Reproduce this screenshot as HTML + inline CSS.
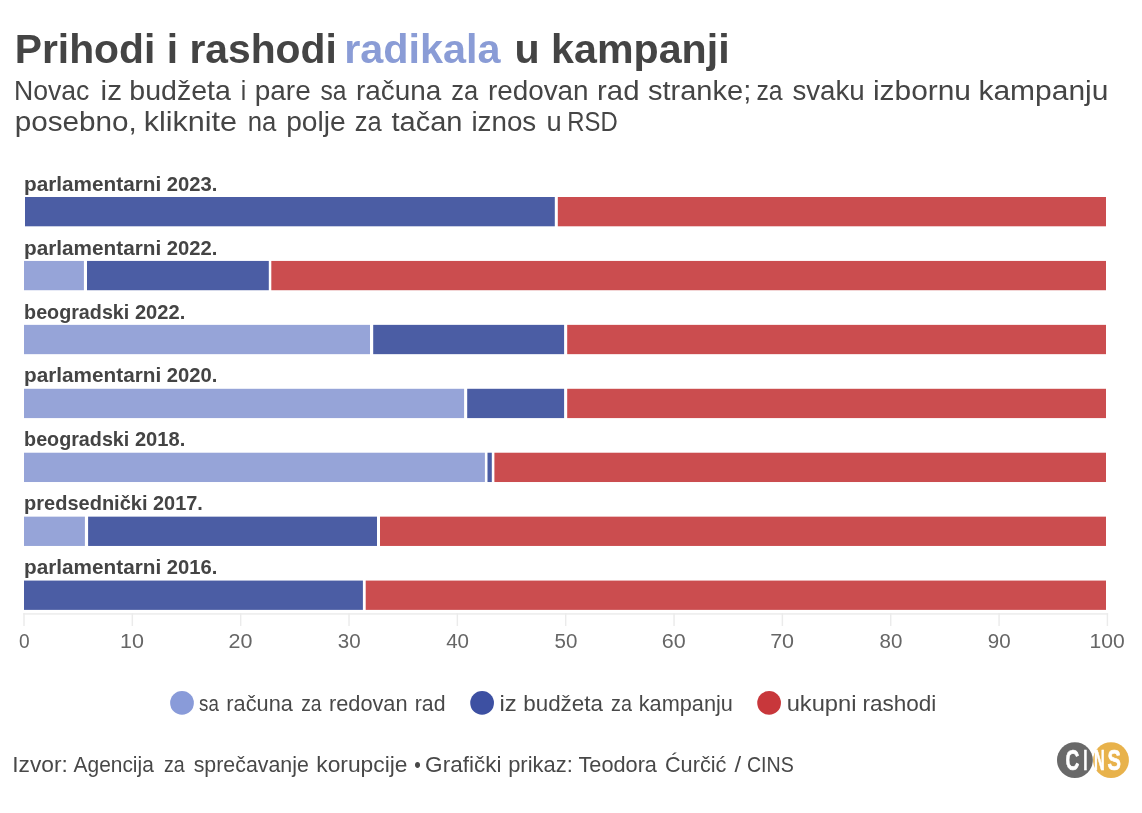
<!DOCTYPE html>
<html lang="sr"><head><meta charset="utf-8"><title>Prihodi i rashodi radikala u kampanji</title>
<style>
html,body{margin:0;padding:0;background:#fff;}
body{width:1142px;height:813px;overflow:hidden;}
svg{display:block;font-family:"Liberation Sans",sans-serif;}
text{white-space:pre;}
</style></head><body>
<svg width="1142" height="813" viewBox="0 0 1142 813">
<rect width="1142" height="813" fill="#ffffff"/>
<g id="bars">
<rect x="25.0" y="197.00" width="529.8" height="29.3" fill="#4b5da4"/>
<rect x="557.8" y="197.00" width="548.2" height="29.3" fill="#cb4d4f"/>
<rect x="24.0" y="260.93" width="59.9" height="29.3" fill="#96a4d8"/>
<rect x="87.0" y="260.93" width="181.8" height="29.3" fill="#4b5da4"/>
<rect x="271.3" y="260.93" width="834.7" height="29.3" fill="#cb4d4f"/>
<rect x="24.0" y="324.86" width="346.0" height="29.3" fill="#96a4d8"/>
<rect x="373.2" y="324.86" width="190.9" height="29.3" fill="#4b5da4"/>
<rect x="567.2" y="324.86" width="538.8" height="29.3" fill="#cb4d4f"/>
<rect x="24.0" y="388.79" width="440.1" height="29.3" fill="#96a4d8"/>
<rect x="467.2" y="388.79" width="96.9" height="29.3" fill="#4b5da4"/>
<rect x="567.2" y="388.79" width="538.8" height="29.3" fill="#cb4d4f"/>
<rect x="24.0" y="452.72" width="460.9" height="29.3" fill="#96a4d8"/>
<rect x="487.5" y="452.72" width="4.3" height="29.3" fill="#4b5da4"/>
<rect x="494.4" y="452.72" width="611.6" height="29.3" fill="#cb4d4f"/>
<rect x="24.0" y="516.65" width="60.9" height="29.3" fill="#96a4d8"/>
<rect x="88.1" y="516.65" width="288.9" height="29.3" fill="#4b5da4"/>
<rect x="380.0" y="516.65" width="726.0" height="29.3" fill="#cb4d4f"/>
<rect x="24.0" y="580.58" width="338.9" height="29.3" fill="#4b5da4"/>
<rect x="365.7" y="580.58" width="740.3" height="29.3" fill="#cb4d4f"/>
</g>
<g id="axis">
<rect x="23.3" y="613.2" width="1084.8" height="1.44" fill="#ebebeb"/>
<rect x="23.28" y="613.2" width="1.44" height="12.8" fill="#ebebeb"/>
<rect x="131.62" y="613.2" width="1.44" height="12.8" fill="#ebebeb"/>
<rect x="239.96" y="613.2" width="1.44" height="12.8" fill="#ebebeb"/>
<rect x="348.30" y="613.2" width="1.44" height="12.8" fill="#ebebeb"/>
<rect x="456.64" y="613.2" width="1.44" height="12.8" fill="#ebebeb"/>
<rect x="564.98" y="613.2" width="1.44" height="12.8" fill="#ebebeb"/>
<rect x="673.32" y="613.2" width="1.44" height="12.8" fill="#ebebeb"/>
<rect x="781.66" y="613.2" width="1.44" height="12.8" fill="#ebebeb"/>
<rect x="890.00" y="613.2" width="1.44" height="12.8" fill="#ebebeb"/>
<rect x="998.34" y="613.2" width="1.44" height="12.8" fill="#ebebeb"/>
<rect x="1106.68" y="613.2" width="1.44" height="12.8" fill="#ebebeb"/>
</g>
<g id="legend">
<circle cx="182" cy="702.9" r="11.85" fill="#899bd9"/>
<circle cx="482.1" cy="702.9" r="11.85" fill="#3d50a2"/>
<circle cx="769.1" cy="702.9" r="11.85" fill="#c8373b"/>
</g>
<g id="logo">
<circle cx="1111" cy="760.1" r="17.9" fill="#e8b24b"/>
<circle cx="1074.9" cy="760.1" r="17.9" fill="#696969"/>
</g>
<g id="logotext" stroke="#ffffff" stroke-width="0.7" stroke-linejoin="round">
<text transform="translate(1065.45 769.90) scale(0.6500 1)" font-size="29.4" font-weight="700" fill="#ffffff">C</text>
<text transform="translate(1083.18 769.90) scale(0.5167 1)" font-size="29.4" font-weight="700" fill="#ffffff">I</text>
<text transform="translate(1093.99 769.90) scale(0.5053 1)" font-size="29.4" font-weight="700" fill="#ffffff">N</text>
<text transform="translate(1107.60 769.90) scale(0.6842 1)" font-size="29.4" font-weight="700" fill="#ffffff">S</text>
</g>
<g id="text">
<text transform="translate(14.71 62.80) scale(0.9963 1)" font-size="41.0" font-weight="700" fill="#444444">Prihodi i rashodi</text>
<text transform="translate(344.18 62.80) scale(1.0098 1)" font-size="41.0" font-weight="700" fill="#8a9cd6">radikala</text>
<text transform="translate(514.49 62.80) scale(1.0049 1)" font-size="41.0" font-weight="700" fill="#444444">u kampanji</text>
<text transform="translate(13.91 99.80) scale(0.9447 1)" font-size="28.2" fill="#454545">Novac</text>
<text transform="translate(100.55 99.80) scale(1.0513 1)" font-size="28.2" fill="#454545">iz</text>
<text transform="translate(129.29 99.80) scale(1.0127 1)" font-size="28.2" fill="#454545">budžeta</text>
<text transform="translate(240.82 99.80) scale(0.8750 1)" font-size="28.2" fill="#454545">i</text>
<text transform="translate(254.71 99.80) scale(0.9920 1)" font-size="28.2" fill="#454545">pare</text>
<text transform="translate(320.50 99.80) scale(0.8739 1)" font-size="28.2" fill="#454545">sa</text>
<text transform="translate(356.01 99.80) scale(0.9894 1)" font-size="28.2" fill="#454545">računa</text>
<text transform="translate(451.20 99.80) scale(0.9040 1)" font-size="28.2" fill="#454545">za</text>
<text transform="translate(487.91 99.80) scale(0.9880 1)" font-size="28.2" fill="#454545">redovan</text>
<text transform="translate(597.06 99.80) scale(1.0404 1)" font-size="28.2" fill="#454545">rad</text>
<text transform="translate(648.00 99.80) scale(1.0291 1)" font-size="28.2" fill="#454545">stranke;</text>
<text transform="translate(756.42 99.80) scale(0.8799 1)" font-size="28.2" fill="#454545">za</text>
<text transform="translate(792.40 99.80) scale(0.9825 1)" font-size="28.2" fill="#454545">svaku</text>
<text transform="translate(872.94 99.80) scale(1.0605 1)" font-size="28.2" fill="#454545">izbornu</text>
<text transform="translate(978.44 99.80) scale(1.0632 1)" font-size="28.2" fill="#454545">kampanju</text>
<text transform="translate(14.75 130.50) scale(1.0526 1)" font-size="28.2" fill="#454545">posebno,</text>
<text transform="translate(143.73 130.50) scale(1.0828 1)" font-size="28.2" fill="#454545">kliknite</text>
<text transform="translate(247.79 130.50) scale(0.9127 1)" font-size="28.2" fill="#454545">na</text>
<text transform="translate(286.20 130.50) scale(0.9987 1)" font-size="28.2" fill="#454545">polje</text>
<text transform="translate(354.70 130.50) scale(0.9040 1)" font-size="28.2" fill="#454545">za</text>
<text transform="translate(391.50 130.50) scale(1.0301 1)" font-size="28.2" fill="#454545">tačan</text>
<text transform="translate(471.42 130.50) scale(0.9844 1)" font-size="28.2" fill="#454545">iznos</text>
<text transform="translate(546.43 130.50) scale(0.9692 1)" font-size="28.2" fill="#454545">u</text>
<text transform="translate(567.30 130.50) scale(0.8476 1)" font-size="28.2" fill="#454545">RSD</text>
<text transform="translate(24.05 190.70) scale(1.0534 1)" font-size="19.7" font-weight="700" fill="#444444">parlamentarni</text>
<text transform="translate(166.70 190.70) scale(1.0267 1)" font-size="19.7" font-weight="700" fill="#444444">2023.</text>
<text transform="translate(24.05 254.63) scale(1.0534 1)" font-size="19.7" font-weight="700" fill="#444444">parlamentarni</text>
<text transform="translate(166.70 254.63) scale(1.0267 1)" font-size="19.7" font-weight="700" fill="#444444">2022.</text>
<text transform="translate(24.10 318.56) scale(1.0013 1)" font-size="19.7" font-weight="700" fill="#444444">beogradski</text>
<text transform="translate(134.90 318.56) scale(1.0226 1)" font-size="19.7" font-weight="700" fill="#444444">2022.</text>
<text transform="translate(24.05 382.49) scale(1.0534 1)" font-size="19.7" font-weight="700" fill="#444444">parlamentarni</text>
<text transform="translate(166.70 382.49) scale(1.0267 1)" font-size="19.7" font-weight="700" fill="#444444">2020.</text>
<text transform="translate(24.10 446.42) scale(1.0013 1)" font-size="19.7" font-weight="700" fill="#444444">beogradski</text>
<text transform="translate(134.90 446.42) scale(1.0226 1)" font-size="19.7" font-weight="700" fill="#444444">2018.</text>
<text transform="translate(24.08 510.35) scale(1.0160 1)" font-size="19.7" font-weight="700" fill="#444444">predsednički</text>
<text transform="translate(153.00 510.35) scale(1.0103 1)" font-size="19.7" font-weight="700" fill="#444444">2017.</text>
<text transform="translate(24.05 574.28) scale(1.0534 1)" font-size="19.7" font-weight="700" fill="#444444">parlamentarni</text>
<text transform="translate(166.70 574.28) scale(1.0267 1)" font-size="19.7" font-weight="700" fill="#444444">2016.</text>
<text transform="translate(18.90 648.00) scale(0.9273 1)" font-size="20.6" fill="#666666">0</text>
<text transform="translate(120.10 648.00) scale(1.0441 1)" font-size="20.6" fill="#666666">10</text>
<text transform="translate(228.44 648.00) scale(1.0441 1)" font-size="20.6" fill="#666666">20</text>
<text transform="translate(337.82 648.00) scale(0.9976 1)" font-size="20.6" fill="#666666">30</text>
<text transform="translate(446.16 648.00) scale(0.9976 1)" font-size="20.6" fill="#666666">40</text>
<text transform="translate(554.50 648.00) scale(0.9976 1)" font-size="20.6" fill="#666666">50</text>
<text transform="translate(661.80 648.00) scale(1.0441 1)" font-size="20.6" fill="#666666">60</text>
<text transform="translate(770.14 648.00) scale(1.0441 1)" font-size="20.6" fill="#666666">70</text>
<text transform="translate(879.52 648.00) scale(0.9976 1)" font-size="20.6" fill="#666666">80</text>
<text transform="translate(987.86 648.00) scale(0.9976 1)" font-size="20.6" fill="#666666">90</text>
<text transform="translate(1089.53 648.00) scale(1.0241 1)" font-size="20.6" fill="#666666">100</text>
<text transform="translate(199.06 711.00) scale(0.8170 1)" font-size="22.9" fill="#484848">sa</text>
<text transform="translate(226.35 711.00) scale(0.9500 1)" font-size="22.9" fill="#484848">računa</text>
<text transform="translate(301.20 711.00) scale(0.8427 1)" font-size="22.9" fill="#484848">za</text>
<text transform="translate(328.95 711.00) scale(0.9507 1)" font-size="22.9" fill="#484848">redovan</text>
<text transform="translate(414.77 711.00) scale(0.9281 1)" font-size="22.9" fill="#484848">rad</text>
<text transform="translate(499.52 711.00) scale(1.0450 1)" font-size="22.9" fill="#484848">iz</text>
<text transform="translate(523.22 711.00) scale(0.9786 1)" font-size="22.9" fill="#484848">budžeta</text>
<text transform="translate(611.10 711.00) scale(0.8632 1)" font-size="22.9" fill="#484848">za</text>
<text transform="translate(638.75 711.00) scale(0.9485 1)" font-size="22.9" fill="#484848">kampanju</text>
<text transform="translate(786.66 711.00) scale(1.0357 1)" font-size="22.9" fill="#484848">ukupni</text>
<text transform="translate(862.42 711.00) scale(0.9837 1)" font-size="22.9" fill="#484848">rashodi</text>
<text transform="translate(12.20 771.80) scale(0.9981 1)" font-size="22.8" fill="#484848">Izvor:</text>
<text transform="translate(73.60 771.80) scale(0.9172 1)" font-size="22.8" fill="#484848">Agencija</text>
<text transform="translate(163.90 771.80) scale(0.8607 1)" font-size="22.8" fill="#484848">za</text>
<text transform="translate(193.70 771.80) scale(0.9366 1)" font-size="22.8" fill="#484848">sprečavanje</text>
<text transform="translate(316.30 771.80) scale(0.9994 1)" font-size="22.8" fill="#484848">korupcije</text>
<text transform="translate(414.22 771.80) scale(0.8193 1)" font-size="22.8" fill="#484848">•</text>
<text transform="translate(425.11 771.80) scale(0.9881 1)" font-size="22.8" fill="#484848">Grafički</text>
<text transform="translate(508.14 771.80) scale(0.9628 1)" font-size="22.8" fill="#484848">prikaz:</text>
<text transform="translate(578.50 771.80) scale(0.9528 1)" font-size="22.8" fill="#484848">Teodora</text>
<text transform="translate(664.95 771.80) scale(0.9526 1)" font-size="22.8" fill="#484848">Ćurčić</text>
<text transform="translate(734.38 771.80) scale(1.0480 1)" font-size="22.8" fill="#484848">/</text>
<text transform="translate(746.94 771.80) scale(0.8618 1)" font-size="22.8" fill="#484848">CINS</text>
</g>
</svg>
</body></html>
